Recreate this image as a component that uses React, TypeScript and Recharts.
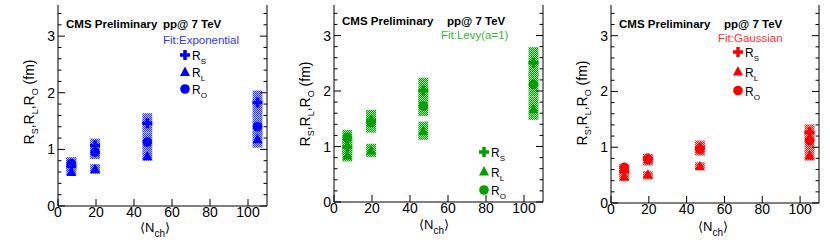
import React from 'react';
import { ComposedChart, XAxis, YAxis, Scatter, ReferenceArea } from 'recharts';

// <N_ch> bins
const nch = [7, 19.5, 47, 105];

// Fit: Exponential
const expRS = [0.7, 1.07, 1.46, 1.83];
const expRL = [0.6, 0.65, 0.88, 1.18];
const expRO = [0.75, 0.95, 1.13, 1.4];
const expSysS = [[0.62, 0.86], [0.9, 1.19], [1.3, 1.64], [1.57, 2.04]];
const expSysL = [[0.54, 0.68], [0.57, 0.74], [0.8, 0.97], [1.03, 1.3]];
const expSysO = [[0.65, 0.86], [0.83, 1.08], [0.97, 1.3], [1.25, 1.57]];

// Fit: Levy(a=1)
const levRS = [0.99, 1.47, 2.01, 2.51];
const levRL = [0.84, 0.93, 1.28, 1.67];
const levRO = [1.16, 1.43, 1.73, 2.12];
const levSysS = [[0.85, 1.15], [1.28, 1.66], [1.8, 2.24], [2.25, 2.79]];
const levSysL = [[0.73, 0.95], [0.81, 1.05], [1.12, 1.45], [1.48, 1.9]];
const levSysO = [[1.02, 1.3], [1.25, 1.62], [1.55, 1.92], [1.9, 2.35]];

// Fit: Gaussian
const gauRS = [0.56, 0.8, 0.99, 1.27];
const gauRL = [0.47, 0.51, 0.66, 0.85];
const gauRO = [0.64, 0.78, 0.96, 1.12];
const gauSysS = [[0.48, 0.66], [0.7, 0.88], [0.88, 1.12], [1.13, 1.41]];
const gauSysL = [[0.4, 0.54], [0.42, 0.57], [0.6, 0.73], [0.76, 0.95]];
const gauSysO = [[0.55, 0.7], [0.67, 0.88], [0.85, 1.08], [0.95, 1.28]];

const xTicks = [0, 20, 40, 60, 80, 100];
const yTicks = [0, 0.2, 0.4, 0.6, 0.8, 1, 1.2, 1.4, 1.6, 1.8, 2, 2.2, 2.4, 2.6, 2.8, 3, 3.2, 3.4];

const FONT = 'Liberation Sans, Arial, Helvetica, sans-serif';
const BOX_HALF = 2.6;

const isMajor = (v: number) => Math.abs(v - Math.round(v)) < 1e-6;

const LeftTick = (p: any) => (
  <g>
    <line x1={p.x} y1={p.y} x2={p.x + (isMajor(p.payload.value) ? 7 : 3.5)} y2={p.y} stroke="#000" />
    {isMajor(p.payload.value) && (
      <text x={p.x - 3} y={p.y + 5} textAnchor="end" fontSize={14} fontFamily={FONT} fill="#000">
        {p.payload.value}
      </text>
    )}
  </g>
);

const RightTick = (p: any) => (
  <line x1={p.x} y1={p.y} x2={p.x - (isMajor(p.payload.value) ? 7 : 3.5)} y2={p.y} stroke="#000" />
);

const BottomTick = (p: any) => (
  <g>
    <line x1={p.x} y1={p.y} x2={p.x} y2={p.y - 7} stroke="#000" />
    <text x={p.x} y={p.y + 11} textAnchor="middle" fontSize={14} fontFamily={FONT} fill="#000">
      {p.payload.value}
    </text>
  </g>
);

const TopTick = (p: any) => <line x1={p.x} y1={p.y} x2={p.x} y2={p.y + 7} stroke="#000" />;

const crossPath = (cx: number, cy: number) =>
  `M${cx - 1.75},${cy - 5} h3.5 v3.25 h3.25 v3.5 h-3.25 v3.25 h-3.5 v-3.25 h-3.25 v-3.5 h3.25 z`;

const makeCross = (fill: string) => (p: any) => <path d={crossPath(p.cx, p.cy)} fill={fill} />;
const makeTri = (fill: string) => (p: any) => (
  <polygon points={`${p.cx},${p.cy - 5.5} ${p.cx + 5},${p.cy + 4} ${p.cx - 5},${p.cy + 4}`} fill={fill} />
);
const makeCirc = (fill: string) => (p: any) => <circle cx={p.cx} cy={p.cy} r={4.8} fill={fill} />;

function Panel(props: any) {
  const { left, width, yAxisW, rightW, bottomH, color, pat, rs, rl, ro, sysS, sysL, sysO } = props;
  const pts = (vals: number[]) => nch.map((x, i) => ({ x, y: vals[i] }));
  const boxes = [sysL, sysO, sysS].flatMap((sys: number[][], k: number) =>
    sys.map((r, i) => (
      <ReferenceArea
        key={`b${k}-${i}`}
        xAxisId="b"
        yAxisId="l"
        x1={nch[i] - BOX_HALF}
        x2={nch[i] + BOX_HALF}
        y1={r[0]}
        y2={r[1]}
        fill={`url(#${pat})`}
        fillOpacity={1}
        stroke="none"
      />
    ))
  );
  return (
    <div style={{ position: 'absolute', left, top: 0 }}>
      <ComposedChart width={width} height={252} margin={{ top: 5, right: 0, bottom: 0, left: 0 }}>
        <XAxis xAxisId="b" type="number" dataKey="x" domain={[0, 110]} ticks={xTicks} interval={0}
          tickSize={0} tickMargin={0} height={bottomH} stroke="#000" tick={BottomTick} allowDataOverflow />
        <XAxis xAxisId="t" orientation="top" type="number" dataKey="x" domain={[0, 110]} ticks={xTicks} interval={0}
          tickSize={0} tickMargin={0} height={0} stroke="#000" tick={TopTick} allowDataOverflow />
        <YAxis yAxisId="l" type="number" dataKey="y" domain={[0, 3.55]} ticks={yTicks} interval={0}
          tickSize={0} tickMargin={0} width={yAxisW} stroke="#000" tick={LeftTick} allowDataOverflow />
        <YAxis yAxisId="r" orientation="right" type="number" dataKey="y" domain={[0, 3.55]} ticks={yTicks} interval={0}
          tickSize={0} tickMargin={0} width={rightW} stroke="#000" tick={RightTick} allowDataOverflow />
        {boxes}
        <Scatter xAxisId="b" yAxisId="l" data={pts(rl)} shape={makeTri(color)} isAnimationActive={false} />
        <Scatter xAxisId="b" yAxisId="l" data={pts(ro)} shape={makeCirc(color)} isAnimationActive={false} />
        <Scatter xAxisId="b" yAxisId="l" data={pts(rs)} shape={makeCross(color)} isAnimationActive={false} />
      </ComposedChart>
    </div>
  );
}

function Legend({ x, y, color }: any) {
  const rows = [
    { s: 'S', m: makeCross(color) },
    { s: 'L', m: makeTri(color) },
    { s: 'O', m: makeCirc(color) },
  ];
  return (
    <g>
      {rows.map((r, i) => {
        const cy = y[i];
        return (
          <g key={r.s}>
            {r.m({ cx: x, cy })}
            <text x={x + 7} y={cy + 5} fontSize={12} fontFamily={FONT} fill="#000">
              R<tspan fontSize={8} dy={4}>{r.s}</tspan>
            </text>
          </g>
        );
      })}
    </g>
  );
}

function YTitle({ x, y }: any) {
  return (
    <text transform={`translate(${x},${y}) rotate(-90)`} textAnchor="middle" fontSize={14} fontFamily={FONT} fill="#000">
      R<tspan fontSize={9} dy={4}>S</tspan>
      <tspan dy={-4}>,R</tspan>
      <tspan fontSize={9} dy={4}>L</tspan>
      <tspan dy={-4}>,R</tspan>
      <tspan fontSize={9} dy={4}>O</tspan>
      <tspan dy={-4}> (fm)</tspan>
    </text>
  );
}

function XTitle({ x, y }: any) {
  return (
    <text x={x} y={y} fontSize={13} fontFamily={FONT} fill="#000">
      {'\u27E8'}N<tspan fontSize={10} dy={5}>ch</tspan>
      <tspan dy={-5}>{'\u27E9'}</tspan>
    </text>
  );
}

function Header({ x1, x2, x3, y1, y3, fit, fitColor }: any) {
  return (
    <g fontFamily={FONT} fontSize={11.5}>
      <text x={x1} y={y1} fontWeight="bold" fill="#000">CMS Preliminary</text>
      <text x={x2} y={y1} fontWeight="bold" fill="#000">pp@ 7 TeV</text>
      <text x={x3} y={y3} fill={fitColor}>{fit}</text>
    </g>
  );
}

function Pattern({ id, light, dark }: any) {
  return (
    <pattern id={id} patternUnits="userSpaceOnUse" width={2} height={2}>
      <rect x={0} y={0} width={2} height={2} fill={light} />
      <rect x={0} y={0} width={1} height={1} fill={dark} />
      <rect x={1} y={1} width={1} height={1} fill={dark} />
    </pattern>
  );
}

export default function App() {
  return (
    <div style={{ position: 'fixed', left: 0, top: 0, width: 830, height: 252, background: '#fff' }}>
      <Panel left={0} width={277} yAxisW={58} rightW={10} bottomH={46} color="#0000ff" pat="patB"
        rs={expRS} rl={expRL} ro={expRO} sysS={expSysS} sysL={expSysL} sysO={expSysO} />
      <Panel left={277} width={276} yAxisW={57} rightW={10} bottomH={50} color="#00a000" pat="patG"
        rs={levRS} rl={levRL} ro={levRO} sysS={levSysS} sysL={levSysL} sysO={levSysO} />
      <Panel left={553} width={277} yAxisW={58} rightW={11} bottomH={49} color="#ff0000" pat="patR"
        rs={gauRS} rl={gauRL} ro={gauRO} sysS={gauSysS} sysL={gauSysL} sysO={gauSysO} />
      <svg width={830} height={252} style={{ position: 'absolute', left: 0, top: 0, pointerEvents: 'none' }}>
        <defs>
          <Pattern id="patB" light="#c0c4ff" dark="#2a36ff" />
          <Pattern id="patG" light="#b0e0b0" dark="#00a000" />
          <Pattern id="patR" light="#ffbcbc" dark="#ff1a1a" />
        </defs>

        <Header x1={66} x2={163} x3={163} y1={28} y3={44} fit="Fit:Exponential" fitColor="#3333ff" />
        <Legend x={185} y={[55, 72, 89]} color="#0000ff" />
        <YTitle x={33.5} y={102} />
        <XTitle x={140} y={232} />

        <Header x1={342} x2={447} x3={441} y1={25} y3={39} fit="Fit:Levy(a=1)" fitColor="#33bb33" />
        <Legend x={484} y={[152, 171.5, 190]} color="#00a000" />
        <YTitle x={310} y={104} />
        <XTitle x={419} y={229} />

        <Header x1={619} x2={724} x3={718} y1={28} y3={42} fit="Fit:Gaussian" fitColor="#ff3333" />
        <Legend x={738} y={[52, 71.5, 90.5]} color="#ff0000" />
        <YTitle x={587} y={103} />
        <XTitle x={698} y={231} />
      </svg>
    </div>
  );
}
